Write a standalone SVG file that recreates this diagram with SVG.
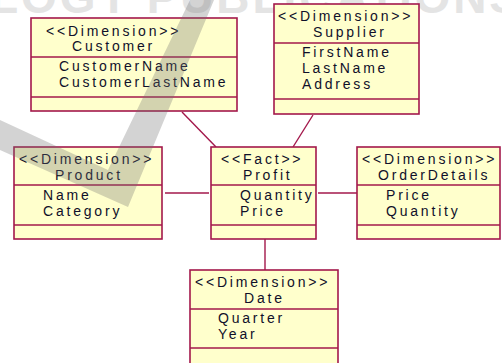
<svg xmlns="http://www.w3.org/2000/svg" width="502" height="363" viewBox="0 0 502 363">
<style>
.box{fill:#ffffcc;stroke:#a3184b;stroke-width:1.6}
.sep{stroke:#a3184b;stroke-width:1.6}
.t{font-family:"Liberation Sans",Arial,sans-serif;font-size:14px;letter-spacing:2.8px;fill:#10102a}
.conn line{stroke:#a3184b;stroke-width:1.4}
.wm{font-family:"Liberation Sans",Arial,sans-serif;font-weight:bold;font-size:46px;fill:#e4e4e4}
</style>
<rect width="502" height="363" fill="#ffffff"/>
<text class="wm" x="-10" y="13" textLength="530" lengthAdjust="spacing">LOGY PUBLICATIONS</text>
<g id="connectors" class="conn">
<line x1="182" y1="112" x2="216" y2="147"/>
<line x1="313" y1="115" x2="293" y2="147"/>
<line x1="165" y1="193" x2="209" y2="193"/>
<line x1="318" y1="193" x2="357" y2="193"/>
<line x1="265" y1="239" x2="265" y2="270"/>
</g>
<g id="customer">
<rect class="box" x="31" y="18" width="206" height="93"/>
<line class="sep" x1="31" y1="57" x2="237" y2="57"/>
<line class="sep" x1="31" y1="97" x2="237" y2="97"/>
<text class="t" x="46" y="35.5">&lt;&lt;Dimension&gt;&gt;</text>
<text class="t" x="72" y="51">Customer</text>
<text class="t" x="59" y="71">CustomerName</text>
<text class="t" x="59" y="87">CustomerLastName</text>
</g>
<g id="supplier">
<rect class="box" x="274" y="4" width="145" height="110"/>
<line class="sep" x1="274" y1="43" x2="419" y2="43"/>
<line class="sep" x1="274" y1="99" x2="419" y2="99"/>
<text class="t" x="278" y="21">&lt;&lt;Dimension&gt;&gt;</text>
<text class="t" x="313" y="37">Supplier</text>
<text class="t" x="302" y="57">FirstName</text>
<text class="t" x="302" y="73">LastName</text>
<text class="t" x="302" y="89">Address</text>
</g>
<g id="product">
<rect class="box" x="14" y="147" width="148" height="92"/>
<line class="sep" x1="14" y1="185" x2="162" y2="185"/>
<line class="sep" x1="14" y1="225" x2="162" y2="225"/>
<text class="t" x="19" y="163.5">&lt;&lt;Dimension&gt;&gt;</text>
<text class="t" x="55" y="179.5">Product</text>
<text class="t" x="43" y="199.5">Name</text>
<text class="t" x="43" y="215.5">Category</text>
</g>
<g id="profit">
<rect class="box" x="211" y="147" width="105" height="92"/>
<line class="sep" x1="211" y1="185" x2="316" y2="185"/>
<line class="sep" x1="211" y1="225" x2="316" y2="225"/>
<text class="t" x="221" y="163.5">&lt;&lt;Fact&gt;&gt;</text>
<text class="t" x="243" y="179.5">Profit</text>
<text class="t" x="240" y="199.5">Quantity</text>
<text class="t" x="240" y="215.5">Price</text>
</g>
<g id="orderdetails">
<rect class="box" x="357" y="147" width="143" height="92"/>
<line class="sep" x1="357" y1="185" x2="500" y2="185"/>
<line class="sep" x1="357" y1="225" x2="500" y2="225"/>
<text class="t" x="362" y="163.5">&lt;&lt;Dimension&gt;&gt;</text>
<text class="t" x="378" y="179.5">OrderDetails</text>
<text class="t" x="386" y="199.5">Price</text>
<text class="t" x="386" y="215.5">Quantity</text>
</g>
<g id="date">
<rect class="box" x="190" y="270" width="148" height="100"/>
<line class="sep" x1="190" y1="309" x2="338" y2="309"/>
<line class="sep" x1="190" y1="348" x2="338" y2="348"/>
<text class="t" x="195" y="287">&lt;&lt;Dimension&gt;&gt;</text>
<text class="t" x="244" y="303">Date</text>
<text class="t" x="218" y="322.5">Quarter</text>
<text class="t" x="218" y="338.5">Year</text>
</g>
<polygon points="0,120 108,170 190,0 214,0 128,207 0,150" fill="#6e6e6e" opacity="0.3"/>
</svg>
